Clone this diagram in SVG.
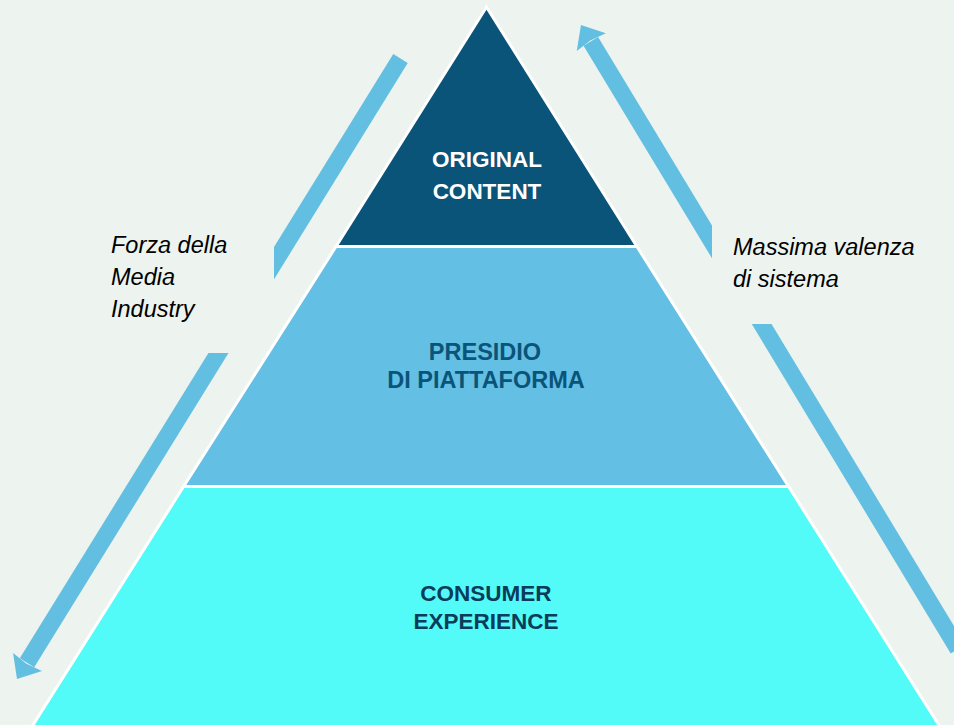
<svg xmlns="http://www.w3.org/2000/svg" width="954" height="725" viewBox="0 0 954 725">
<style>
.bg{fill:#edf3ee}
.layer{stroke:#ffffff;stroke-width:3;stroke-linejoin:miter}
.lbl{font-family:"Liberation Sans",Arial,sans-serif;font-weight:bold;font-size:22.5px;text-anchor:middle}
.side{font-family:"Liberation Sans",Arial,sans-serif;font-style:italic;font-size:23.5px;fill:#000000}
.arrow{stroke:#62bfe2;stroke-width:17;stroke-linecap:butt;fill:none}
</style>
<defs>
<marker id="head" markerUnits="userSpaceOnUse" orient="auto" refX="0" refY="0" markerWidth="40" markerHeight="40" viewBox="-2 -20 24 40" overflow="visible">
<path d="M-1,-17 L19,0 L-1,17 L1,0 Z" fill="#62bfe2"/>
</marker>
</defs>
<rect class="bg" x="0" y="0" width="954" height="725"/>
<g id="connectors">
<line id="arrow-left" class="arrow" x1="400.5" y1="58.5" x2="27" y2="662.8" marker-end="url(#head)"/>
<line id="arrow-right" class="arrow" x1="958" y1="649" x2="590.8" y2="41.3" marker-end="url(#head)"/>
</g>
<g id="label-left">
<rect class="bg" x="100" y="225" width="174" height="128"/>
<text class="side" x="111" y="253">Forza della</text>
<text class="side" x="111" y="285">Media</text>
<text class="side" x="111" y="317">Industry</text>
</g>
<g id="label-right">
<rect class="bg" x="712" y="200" width="230" height="124"/>
<text class="side" x="733" y="255">Massima valenza</text>
<text class="side" x="733" y="287">di sistema</text>
</g>
<g id="consumer-experience">
<polygon class="layer" fill="#52fbf8" points="183.6,486.5 788.6,486.5 942,730 29.8,730"/>
<text class="lbl" x="486" y="601" fill="#0b3c5a">CONSUMER</text>
<text class="lbl" x="486" y="628.5" fill="#0b3c5a">EXPERIENCE</text>
</g>
<g id="presidio-di-piattaforma">
<polygon class="layer" fill="#63bfe3" points="336,246.5 636.9,246.5 788.6,486.5 183.6,486.5"/>
<text class="lbl" x="485" y="359.5" fill="#0a5479" style="font-size:23.5px">PRESIDIO</text>
<text class="lbl" x="486" y="387.5" fill="#0a5479" style="font-size:23.5px">DI PIATTAFORMA</text>
</g>
<g id="original-content">
<polygon class="layer" fill="#0a5479" points="486.5,7 636.9,246.5 336,246.5"/>
<text class="lbl" x="487" y="166.5" fill="#ffffff">ORIGINAL</text>
<text class="lbl" x="487" y="199" fill="#ffffff">CONTENT</text>
</g>
</svg>
